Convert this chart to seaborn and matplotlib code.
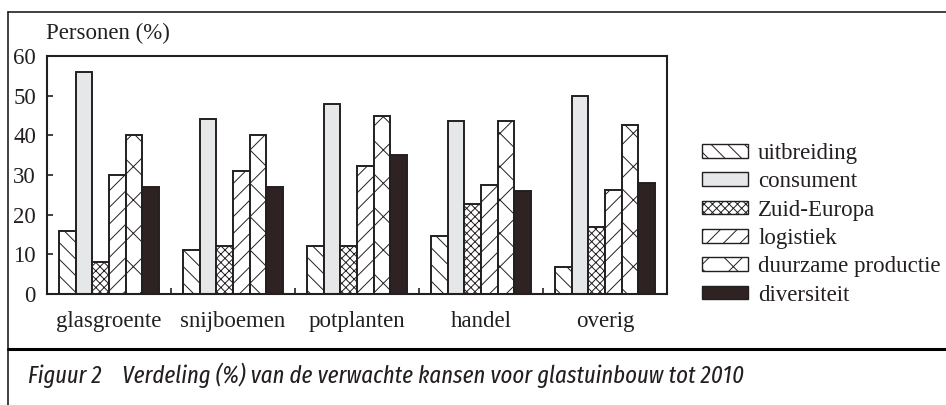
import matplotlib
matplotlib.use("Agg")
import matplotlib.pyplot as plt
from matplotlib.patches import Patch
from matplotlib.lines import Line2D
from matplotlib.ticker import FixedLocator
import seaborn as sns
import pandas as pd

sectors = ["glasgroente", "snijboemen", "potplanten", "handel", "overig"]
series = ["uitbreiding", "consument", "Zuid-Europa", "logistiek",
          "duurzame productie", "diversiteit"]
uitbreiding = [16, 11, 12, 14.7, 6.8]
consument = [56, 44, 48, 43.6, 50]
zuid_europa = [8, 12, 12, 22.6, 17]
logistiek = [30, 31, 32.2, 27.5, 26.2]
duurzame_productie = [40, 40, 45, 43.6, 42.5]
diversiteit = [27, 27, 35, 26, 28]
yticks = [0, 10, 20, 30, 40, 50, 60]
ylabel = "Personen (%)"
caption = "Figuur 2    Verdeling (%) van de verwachte kansen voor glastuinbouw tot 2010"

values = [uitbreiding, consument, zuid_europa, logistiek, duurzame_productie, diversiteit]
rows = []
for s, vals in zip(series, values):
    for sec, v in zip(sectors, vals):
        rows.append({"sector": sec, "kans": s, "value": v})
df = pd.DataFrame(rows)

INK = "#231f20"
FS = 16.5
SERIF = ["Liberation Serif", "DejaVu Serif"]
fills = {"uitbreiding": "white", "consument": "#e6e7e8", "Zuid-Europa": "white",
         "logistiek": "white", "duurzame productie": "white", "diversiteit": "#2e2322"}
hatches = {"uitbreiding": "\\\\", "consument": "", "Zuid-Europa": "xxxx",
           "logistiek": "//", "duurzame productie": "x", "diversiteit": ""}

sns.set_style("white")
plt.rcParams["font.family"] = SERIF
plt.rcParams["hatch.linewidth"] = 0.7
plt.rcParams["hatch.color"] = INK

fig = plt.figure(figsize=(9.46, 4.05), dpi=100)
ax = fig.add_axes([47 / 946, 1 - 294 / 405, 620 / 946, 238 / 405])

sns.barplot(data=df, x="sector", y="value", hue="kans", order=sectors,
            hue_order=series, palette=fills, width=0.8, gap=0, saturation=1,
            edgecolor=INK, linewidth=1.4, legend=False, ax=ax, errorbar=None)

for s, cont in zip(series, ax.containers):
    for bar in cont:
        bar.set_hatch(hatches[s])
        bar.set_edgecolor(INK)

ax.set_ylim(0, 60)
ax.set_xlim(-0.5, 4.5)
ax.set_yticks(yticks)
ax.set_xlabel("")
ax.set_ylabel("")
for sp in ax.spines.values():
    sp.set_visible(True)
    sp.set_color(INK)
    sp.set_linewidth(1.5)
ax.tick_params(axis="y", direction="in", length=4, width=1.2, color=INK,
               labelsize=FS, pad=8, labelcolor=INK, left=True)
ax.tick_params(axis="x", which="major", length=0, labelsize=FS, pad=12,
               labelcolor=INK)
ax.xaxis.set_minor_locator(FixedLocator([0.5, 1.5, 2.5, 3.5]))
ax.tick_params(axis="x", which="minor", direction="in", length=4, width=1.2,
               color=INK, bottom=True)
for lab in ax.get_xticklabels() + ax.get_yticklabels():
    lab.set_family(SERIF)

fig.text(46 / 946, 1 - 33 / 405, ylabel, fontsize=FS, color=INK,
         family=SERIF, ha="left", va="center")

handles = [Patch(facecolor=fills[s], edgecolor=INK, hatch=hatches[s],
                 linewidth=1.0) for s in series]
leg = fig.legend(handles, series, loc="upper left",
                 bbox_to_anchor=(702 / 946, 1 - 143 / 405),
                 bbox_transform=fig.transFigure, frameon=False, fontsize=FS,
                 handlelength=2.0, handleheight=0.55, handletextpad=0.45,
                 labelspacing=0.32, borderpad=0, borderaxespad=0,
                 labelcolor=INK, prop={"family": SERIF, "size": FS})

# frame lines
fig.add_artist(Line2D([8 / 946, 1], [1 - 12 / 405, 1 - 12 / 405],
                      transform=fig.transFigure, color=INK, linewidth=1.2))
fig.add_artist(Line2D([8 / 946, 8 / 946], [0, 1 - 12 / 405],
                      transform=fig.transFigure, color=INK, linewidth=1.2))
fig.add_artist(Line2D([8 / 946, 1], [1 - 349 / 405, 1 - 349 / 405],
                      transform=fig.transFigure, color="black", linewidth=2.2))

cap = fig.text(28 / 946, 1 - 375 / 405, caption, fontsize=14, style="italic",
               family=["Fira Sans Extra Condensed", "Roboto Condensed", "DejaVu Sans"],
               color=INK, ha="left", va="center")
fig.canvas.draw()
w = cap.get_window_extent().width
cap.set_fontsize(14 * 715 / w)

fig.savefig("out.png", dpi=100)
